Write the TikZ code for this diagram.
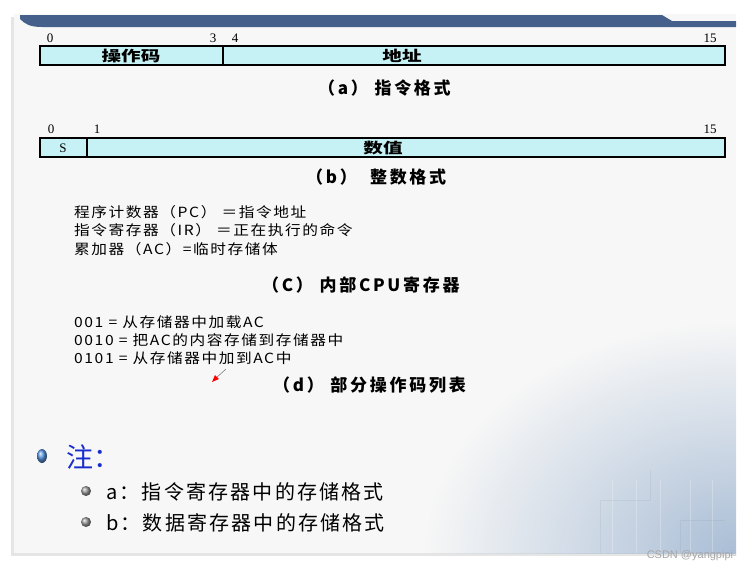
\documentclass[tikz,border=0pt]{standalone}
\usepackage{graphicx}
\usepackage{fontspec}
\setmainfont{Liberation Serif}
\newfontfamily\cjk{Noto Sans CJK SC}
\newfontfamily\cjkspaced[LetterSpace=16]{Noto Sans CJK SC}
\newfontfamily\cjkreg[LetterSpace=10]{Noto Sans CJK SC}
\newfontfamily\cjknote[LetterSpace=11]{Noto Sans CJK SC}
\usetikzlibrary{positioning, fadings, arrows.meta}
\definecolor{slidebg}{RGB}{247,247,247}
\definecolor{bannercolor}{RGB}{70,96,140}
\definecolor{fieldcolor}{RGB}{198,242,245}
\definecolor{notecolor}{RGB}{25,45,205}
\definecolor{bulletcolor}{RGB}{90,150,225}
\definecolor{circuitcolor}{RGB}{170,190,214}
\tikzfading[name=circuitfade, inner color=transparent!0, outer color=transparent!100]
\newcommand\widelabel[1]{\scalebox{1.35}[1]{#1}}
\newcommand\regtext[1]{\scalebox{1.12}[1]{#1}}

\begin{document}
\begin{tikzpicture}[
    x=1pt, y=-1pt,
    fieldbox/.style={draw, line width=1.6pt, fill=fieldcolor, inner sep=0pt, minimum height=19pt},
    fieldtext/.style={font=\cjk\bfseries\fontsize{14.5}{14.5}\selectfont, inner sep=0pt},
    bitnum/.style={font=\fontsize{13}{13}\selectfont, inner sep=0pt},
    caption/.style={font=\cjkspaced\bfseries\fontsize{17}{17}\selectfont, anchor=west, inner sep=0pt},
    regline/.style={font=\cjkreg\fontsize{14}{14}\selectfont, anchor=west, inner sep=0pt},
    noteitem/.style={font=\cjknote\fontsize{20}{20}\selectfont, anchor=west, inner sep=0pt}
]
    \useasboundingbox (0,0) rectangle (750,568);
    % slide with shadow
    \fill[black!10] (11,17) rectangle (734,556);
    \fill[slidebg] (14,14) rectangle (736,553);
    \begin{scope}
        \clip (14,14) rectangle (736,553);
        \fill[circuitcolor, path fading=circuitfade] (426,323) rectangle (1046,783);
        \foreach \cx in {612,636,660,690,712} {
            \draw[white, opacity=0.25, line width=1pt] (\cx,553) -- (\cx,480);
        }
        \draw[circuitcolor!70!black, opacity=0.12, line width=1pt] (600,553) -- (600,500) -- (650,500) -- (650,470);
        \draw[circuitcolor!70!black, opacity=0.12, line width=1pt] (680,553) -- (680,520) -- (725,520);
    \end{scope}
    % banner
    \fill[bannercolor] (20,15) -- (662,15) -- (672,21) -- (736,21) -- (736,27) -- (42,27) .. controls (30,27) and (25,24) .. (20,19) -- cycle;

    % (a) instruction format
    \node[fieldbox, minimum width=183pt] (opcode) at (131.5,55.5) {};
    \node[fieldbox, minimum width=502pt] (address) at (474,55.5) {};
    \node[fieldtext] (opcodetext) at (131,56) {\widelabel{操作码}};
    \node[fieldtext] (addresstext) at (402,56) {\widelabel{地址}};
    \node[bitnum] (abit0) at (50,38) {0};
    \node[bitnum] (abit3) at (213,38) {3};
    \node[bitnum] (abit4) at (235,38) {4};
    \node[bitnum] (abit15) at (710,38) {15};
    \node[caption] (capa) at (318,88) {（a） 指令格式};

    % (b) integer format
    \node[fieldbox, minimum width=47pt] (sign) at (63.5,147.5) {};
    \node[fieldbox, minimum width=638pt] (value) at (406,147.5) {};
    \node[bitnum] (signtext) at (63,148) {S};
    \node[fieldtext] (valuetext) at (383,148) {\widelabel{数值}};
    \node[bitnum] (bbit0) at (51,129) {0};
    \node[bitnum] (bbit1) at (97,129) {1};
    \node[bitnum] (bbit15) at (710,129) {15};
    \node[caption] (capb) at (306,177) {（b）\ \ 整数格式};

    % (c) registers
    \node[regline] (pcline) at (74,212) {\regtext{程序计数器（PC） ＝指令地址}};
    \node[regline] (irline) at (74,230) {\regtext{指令寄存器（IR） ＝正在执行的命令}};
    \node[regline] (acline) at (74,249) {\regtext{累加器（AC）=临时存储体}};
    \node[caption] (capc) at (262,285) {（C） 内部CPU寄存器};

    % (d) opcodes
    \node[regline] (opload) at (74,322) {\regtext{001 = 从存储器中加载AC}};
    \node[regline] (opstore) at (74,340) {\regtext{0010 = 把AC的内容存储到存储器中}};
    \node[regline] (opadd) at (74,358) {\regtext{0101 = 从存储器中加到AC中}};
    \node[caption] (capd) at (273,385) {（d） 部分操作码列表};
    \draw[gray, line width=0.6pt] (226,369) -- (216,378);
    \fill[red] (212,382) -- (215,375) -- (219,379) -- cycle;

    % notes
    \shade[ball color=bulletcolor] (42,456) ellipse (5 and 7);
    \node[font=\cjk\fontsize{27}{27}\selectfont, text=notecolor, anchor=west, inner sep=0pt] (notehead) at (66,457) {注：};
    \shade[ball color=gray!80] (86,491) circle (5);
    \shade[ball color=gray!80] (86,522) circle (5);
    \node[noteitem] (notea) at (106,492) {a：指令寄存器中的存储格式};
    \node[noteitem] (noteb) at (106,523) {b：数据寄存器中的存储格式};

    \node[font=\fontspec{Liberation Sans}\fontsize{11}{11}\selectfont, text=black!35, anchor=east, inner sep=0pt] (mark) at (737,556) {CSDN @yangpipi-};
\end{tikzpicture}
\end{document}
